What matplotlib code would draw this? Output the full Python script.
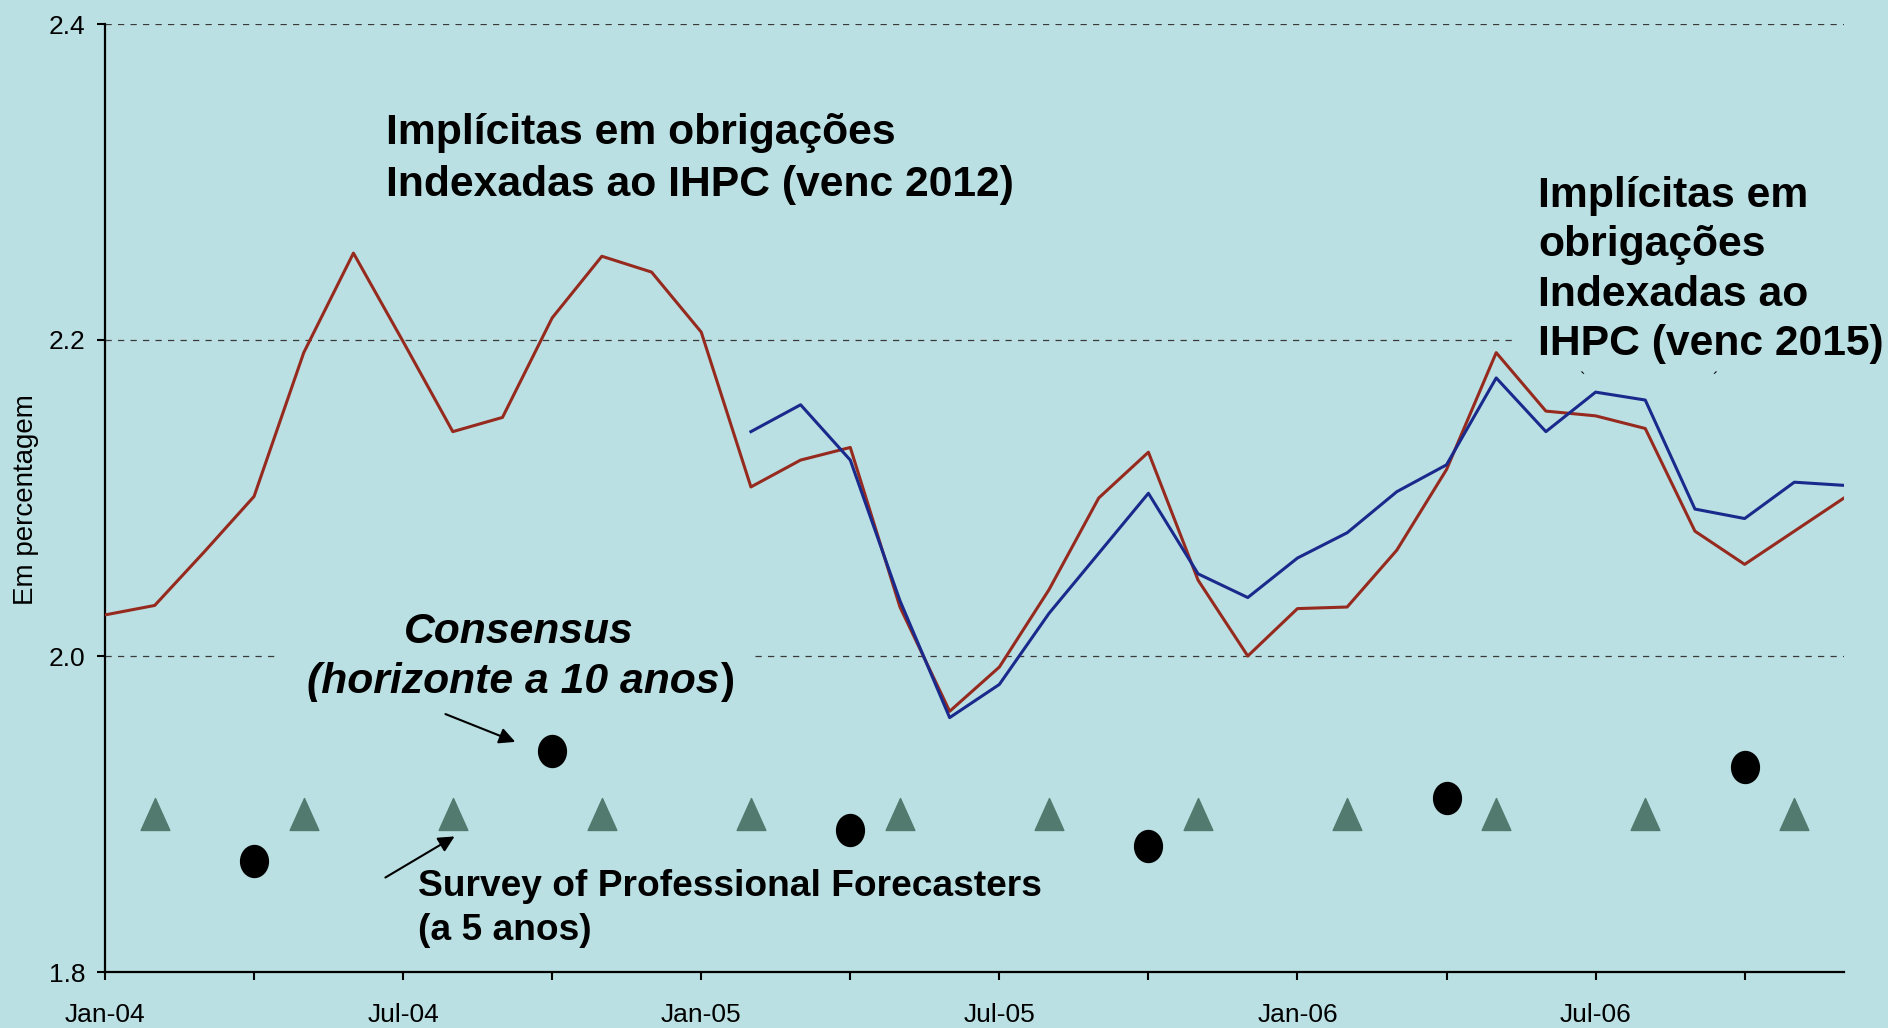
import matplotlib.pyplot as plt
from matplotlib.path import Path
from matplotlib.patches import Rectangle

plt.rcParams['font.family'] = ['Liberation Sans', 'DejaVu Sans']

# monthly index, 0 = Jan-04
months = list(range(36))
tick_pos = [0, 6, 12, 18, 24, 30]
tick_labels = ['Jan-04', 'Jul-04', 'Jan-05', 'Jul-05', 'Jan-06', 'Jul-06']
minor_pos = [3, 9, 15, 21, 27, 33]

venc2012 = [2.026, 2.032, 2.066, 2.101, 2.192, 2.255, 2.199, 2.142, 2.151, 2.214,
            2.253, 2.243, 2.205, 2.107, 2.124, 2.132, 2.031, 1.965, 1.993, 2.042,
            2.100, 2.129, 2.048, 2.000, 2.030, 2.031, 2.067, 2.118, 2.192, 2.155,
            2.152, 2.144, 2.079, 2.058, 2.079, 2.100]

venc2015_months = list(range(13, 36))
venc2015 = [2.142, 2.159, 2.124, 2.035, 1.961, 1.982, 2.027, 2.065, 2.103, 2.052,
            2.037, 2.062, 2.078, 2.104, 2.121, 2.176, 2.142, 2.167, 2.162, 2.093,
            2.087, 2.110, 2.108]

spf_months = [1, 4, 7, 10, 13, 16, 19, 22, 25, 28, 31, 34]
spf = [1.90, 1.90, 1.90, 1.90, 1.90, 1.90, 1.90, 1.90, 1.90, 1.90, 1.90, 1.90]

consensus_months = [3, 9, 15, 21, 27, 33]
consensus = [1.87, 1.94, 1.89, 1.88, 1.91, 1.93]

bg = '#BAE0E3'
red = '#962A1E'
blue = '#1A2A8C'
green = '#527A6E'

# marker shapes: slightly tall ellipse and tall triangle
ell = Path.unit_circle()
ell = Path(ell.vertices * [0.87, 1.0], ell.codes)
tri = Path([(0, 1), (-0.9, -1), (0.9, -1), (0, 1)],
           [Path.MOVETO, Path.LINETO, Path.LINETO, Path.CLOSEPOLY])

fig = plt.figure(figsize=(18.88, 10.28), dpi=100, facecolor=bg)
ax = fig.add_axes([105 / 1888, 1 - 972 / 1028, 1739 / 1888, 948 / 1028])
ax.set_facecolor(bg)

ax.plot(months, venc2012, color=red, lw=2.2, zorder=4)
ax.plot(venc2015_months, venc2015, color=blue, lw=2.2, zorder=4)
ax.plot(spf_months, spf, ls='none', marker=tri, ms=23, color=green, mec=green, zorder=5)
ax.plot(consensus_months, consensus, ls='none', marker=ell, ms=23, color='black', zorder=5)

ax.set_xlim(0, 35)
ax.set_ylim(1.8, 2.4)
ax.set_yticks([1.8, 2.0, 2.2, 2.4])
ax.set_yticklabels(['1.8', '2.0', '2.2', '2.4'])
ax.set_xticks(tick_pos)
ax.set_xticklabels(tick_labels)
ax.set_xticks(minor_pos, minor=True)
ax.tick_params(axis='both', which='both', direction='out', length=6, width=1.5,
               color='black', labelsize=19)
ax.tick_params(axis='x', which='major', pad=16)
ax.tick_params(axis='y', pad=8)
ax.grid(axis='y', ls=(0, (5, 5)), lw=0.9, color='#3a3a3a', zorder=1)
ax.set_axisbelow(True)
for s in ['top', 'right']:
    ax.spines[s].set_visible(False)
for s in ['left', 'bottom']:
    ax.spines[s].set_linewidth(1.6)

# text boxes hide the gridlines behind them
ax.add_patch(Rectangle((3.46, 1.9722), 13.08 - 3.46, 2.0101 - 1.9722,
                       fc=bg, ec='none', zorder=1.5))
ax.add_patch(Rectangle((28.32, 2.19), 35 - 28.32, 0.02,
                       fc=bg, ec='none', zorder=1.5))

fig.text(13 / 1888, 1 - 500 / 1028, 'Em percentagem', rotation=90,
         ha='left', va='center', fontsize=20)

ax.text(5.655, 2.2911, 'Implícitas em obrigações\nIndexadas ao IHPC (venc 2012)',
        fontsize=30.7, fontweight='bold', ha='left', va='baseline', linespacing=1.4)
ax.text(28.84, 2.1905, 'Implícitas em\nobrigações\nIndexadas ao\nIHPC (venc 2015)',
        fontsize=30.7, fontweight='bold', ha='left', va='baseline', linespacing=1.3)

ax.text(8.322, 2.0082, 'Consensus', fontsize=30.7, fontweight='bold', style='italic',
        ha='center', va='baseline')
ax.text(12.377, 1.9766, '(horizonte a 10 anos', fontsize=30.7, fontweight='bold',
        style='italic', ha='right', va='baseline')
ax.text(12.377, 1.9766, ')', fontsize=30.7, fontweight='bold',
        ha='left', va='baseline')

ax.text(6.3, 1.8203, 'Survey of Professional Forecasters\n(a 5 anos)', fontsize=26.7,
        fontweight='bold', ha='left', va='baseline', linespacing=1.32)

ax.text(29.73, 2.1747, '`', fontsize=12, ha='center', va='center', zorder=6)
ax.text(32.4, 2.1747, '´', fontsize=12, ha='center', va='center', zorder=6)

arrow = dict(arrowstyle='-|>', color='black', lw=1.5, mutation_scale=24)
ax.annotate('', xy=(8.31, 1.945), xytext=(6.80, 1.9639), arrowprops=arrow, zorder=6)
ax.annotate('', xy=(7.084, 1.8867), xytext=(5.595, 1.8589), arrowprops=arrow, zorder=6)

fig.savefig('out.png', dpi=100, facecolor=bg)
